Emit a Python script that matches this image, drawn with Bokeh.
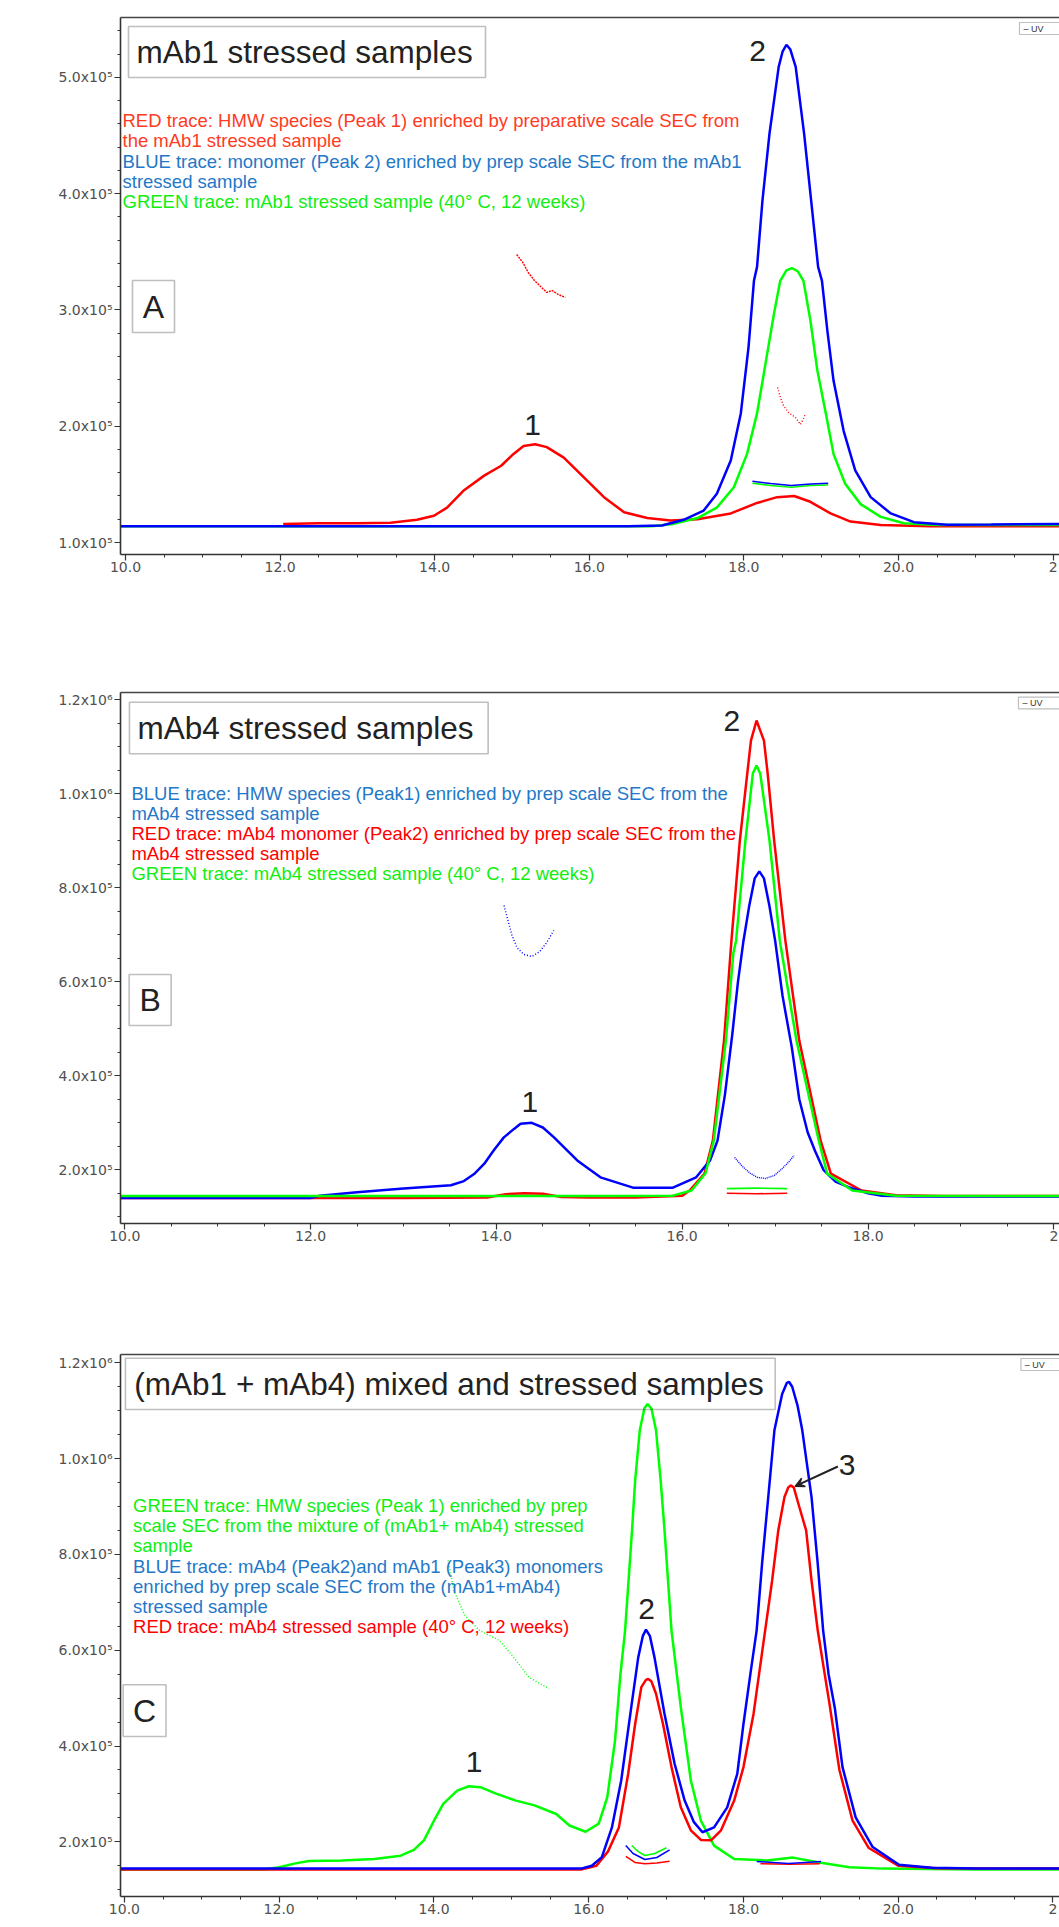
from bokeh.plotting import figure
from bokeh.models import Range1d, LinearAxis, FixedTicker, Label, BoxAnnotation, Arrow, VeeHead
from bokeh.layouts import column
from bokeh.embed import file_html
from bokeh.resources import INLINE

# ================= DATA (x: retention time in min, y: UV response in units of 1e5) =================
# ---- Panel A : mAb1 stressed samples ----
a_red_x = [12.04, 12.5, 13.0, 13.43, 13.77, 13.99, 14.16, 14.38, 14.64, 14.86, 15.0, 15.15, 15.3, 15.45,
           15.67, 15.93, 16.19, 16.45, 16.75, 17.05, 17.40, 17.83, 18.17, 18.43, 18.65, 18.86, 19.12, 19.38,
           19.77, 20.41, 21.0, 22.1]
a_red_y = [1.16, 1.165, 1.165, 1.17, 1.195, 1.23, 1.30, 1.45, 1.575, 1.66, 1.75, 1.83, 1.845, 1.82,
           1.73, 1.56, 1.39, 1.26, 1.21, 1.19, 1.20, 1.25, 1.34, 1.39, 1.40, 1.35, 1.25, 1.18,
           1.15, 1.14, 1.14, 1.14]
a_green_x = [9.94, 12.0, 14.0, 16.0, 16.8, 17.09, 17.40, 17.65, 17.87, 18.04, 18.17, 18.28, 18.39, 18.47, 18.55,
             18.62, 18.70, 18.77, 18.86, 18.95, 19.06, 19.16, 19.31, 19.51, 19.77, 20.07, 20.5, 22.1]
a_green_y = [1.14, 1.14, 1.14, 1.14, 1.14, 1.16, 1.21, 1.30, 1.475, 1.76, 2.11, 2.54, 2.97, 3.25, 3.34,
             3.36, 3.33, 3.25, 2.91, 2.48, 2.11, 1.76, 1.505, 1.33, 1.22, 1.166, 1.15, 1.15]
a_blue_x = [9.94, 11.0, 12.0, 13.0, 14.0, 15.0, 16.0, 16.5, 16.94, 17.22, 17.48, 17.65, 17.83, 17.96, 18.06,
            18.13, 18.17, 18.24, 18.33, 18.45, 18.50, 18.55, 18.60, 18.67, 18.78, 18.87, 18.96, 19.01, 19.08,
            19.16, 19.29, 19.44, 19.64, 19.90, 20.20, 20.63, 21.2, 22.1]
a_blue_y = [1.14, 1.14, 1.14, 1.14, 1.14, 1.14, 1.14, 1.14, 1.146, 1.195, 1.275, 1.42, 1.705, 2.11, 2.68,
            3.25, 3.37, 3.94, 4.51, 5.09, 5.22, 5.28, 5.24, 5.09, 4.51, 3.94, 3.37, 3.25, 2.82,
            2.39, 1.96, 1.62, 1.39, 1.25, 1.175, 1.152, 1.155, 1.16]
# small trace fragments drawn by the acquisition software
a_frag_red1_x = [15.06, 15.14, 15.21, 15.29, 15.37, 15.45, 15.52, 15.60, 15.69]
a_frag_red1_y = [3.476, 3.408, 3.322, 3.253, 3.201, 3.150, 3.167, 3.132, 3.107]
a_frag_red2_x = [18.435, 18.473, 18.512, 18.577, 18.667, 18.732, 18.771, 18.797]
a_frag_red2_y = [2.333, 2.247, 2.178, 2.118, 2.075, 2.015, 2.066, 2.109]
a_frag_blue_x = [18.11, 18.345, 18.61, 18.865, 19.09]
a_frag_blue_y = [1.527, 1.507, 1.490, 1.503, 1.510]
a_frag_green_y = [1.51, 1.49, 1.475, 1.49, 1.495]

# ---- Panel B : mAb4 stressed samples ----
b_red_x = [9.95, 11.0, 12.0, 13.0, 13.9, 14.1, 14.3, 14.5, 14.7, 15.0, 15.5, 16.0, 16.08, 16.24, 16.33, 16.45,
           16.53, 16.62, 16.70, 16.74, 16.80, 16.88, 16.92, 16.99, 17.11, 17.26, 17.49, 17.60, 17.93, 18.3,
           18.8, 20.1]
b_red_y = [1.40, 1.40, 1.40, 1.40, 1.41, 1.48, 1.50, 1.49, 1.42, 1.41, 1.41, 1.45, 1.56, 1.92, 2.62, 4.75,
           6.88, 9.0, 10.43, 11.13, 11.56, 11.13, 10.43, 9.0, 6.88, 4.75, 2.62, 1.92, 1.56, 1.46,
           1.44, 1.44]
b_blue_x = [9.95, 11.0, 12.0, 12.1, 12.5, 13.0, 13.51, 13.65, 13.76, 13.87, 13.97, 14.08, 14.19, 14.26, 14.38,
            14.50, 14.62, 14.87, 15.12, 15.47, 15.90, 16.15, 16.30, 16.38, 16.46, 16.54, 16.60, 16.66, 16.72,
            16.78, 16.83, 16.88, 16.94, 17.0, 17.08, 17.18, 17.26, 17.35, 17.43, 17.52, 17.65, 17.79, 18.0,
            18.15, 18.5, 19.0, 20.1]
b_blue_y = [1.40, 1.40, 1.40, 1.45, 1.52, 1.60, 1.67, 1.76, 1.91, 2.13, 2.41, 2.69, 2.87, 2.98, 3.0,
            2.90, 2.69, 2.20, 1.84, 1.62, 1.62, 1.84, 2.2, 2.62, 3.6, 4.9, 6.0, 6.88, 7.6,
            8.2, 8.35, 8.2, 7.6, 6.88, 5.7, 4.6, 3.5, 2.8, 2.4, 2.0, 1.75, 1.63, 1.5,
            1.45, 1.43, 1.43, 1.43]
b_green_x = [9.95, 12.0, 14.0, 15.0, 15.9, 16.1, 16.25, 16.34, 16.47, 16.55, 16.58, 16.68, 16.72, 16.76, 16.80,
             16.84, 16.94, 17.05, 17.23, 17.47, 17.56, 17.83, 18.3, 20.1]
b_green_y = [1.44, 1.44, 1.44, 1.44, 1.45, 1.56, 1.92, 2.62, 4.75, 6.6, 6.88, 9.0, 9.71, 10.43, 10.60,
             10.43, 9.0, 6.88, 4.75, 2.62, 1.92, 1.56, 1.45, 1.44]
b_frag_blue1_x = [14.082, 14.125, 14.168, 14.221, 14.296, 14.382, 14.467, 14.542, 14.617]
b_frag_blue1_y = [7.623, 7.304, 6.985, 6.730, 6.581, 6.538, 6.645, 6.836, 7.091]
b_frag_blue2_x = [16.564, 16.649, 16.735, 16.810, 16.895, 16.991, 17.077, 17.141, 17.205]
b_frag_blue2_y = [2.262, 2.070, 1.921, 1.836, 1.815, 1.879, 2.028, 2.155, 2.304]
b_frag_line_x = [16.48, 16.8, 17.13]
b_frag_green_y = [1.60, 1.61, 1.60]
b_frag_red_y = [1.50, 1.49, 1.50]

# ---- Panel C : (mAb1 + mAb4) mixed and stressed samples ----
c_green_x = [9.95, 11.0, 11.8, 12.0, 12.21, 12.38, 12.81, 13.23, 13.57, 13.74, 13.87, 14.0, 14.12, 14.30, 14.45,
             14.60, 14.81, 15.06, 15.30, 15.58, 15.75, 15.96, 16.13, 16.24, 16.34, 16.41, 16.47, 16.56, 16.60,
             16.66, 16.72, 16.76, 16.81, 16.87, 16.93, 16.98, 17.07, 17.19, 17.32, 17.45, 17.62, 17.88, 18.30,
             18.64, 18.98, 19.37, 19.80, 21.0, 22.1]
c_green_y = [1.42, 1.42, 1.42, 1.47, 1.55, 1.60, 1.61, 1.64, 1.71, 1.83, 2.03, 2.44, 2.79, 3.07, 3.16,
             3.14, 3.00, 2.86, 2.76, 2.58, 2.34, 2.21, 2.38, 2.93, 4.11, 5.5, 6.41, 8.5, 9.54,
             10.59, 11.05, 11.14, 11.05, 10.59, 9.54, 8.5, 6.41, 4.81, 3.28, 2.44, 1.92, 1.64, 1.61,
             1.67, 1.57, 1.47, 1.44, 1.42, 1.42]
c_red_x = [9.95, 12.0, 14.0, 15.9, 16.1, 16.25, 16.39, 16.51, 16.60, 16.68, 16.74, 16.77, 16.81, 16.87, 16.96,
           17.07, 17.19, 17.32, 17.45, 17.58, 17.71, 17.88, 18.0, 18.13, 18.28, 18.37, 18.45, 18.53, 18.58,
           18.61, 18.65, 18.72, 18.81, 18.88, 18.96, 19.04, 19.11, 19.24, 19.41, 19.62, 20.0, 20.5, 22.1]
c_red_y = [1.42, 1.42, 1.42, 1.42, 1.50, 1.80, 2.30, 3.42, 4.46, 5.23, 5.38, 5.40, 5.35, 5.09, 4.46,
           3.56, 2.72, 2.24, 2.04, 2.03, 2.24, 2.86, 3.56, 4.67, 6.41, 7.45, 8.5, 9.2, 9.4,
           9.44, 9.4, 9.0, 8.5, 7.45, 6.41, 5.6, 4.9, 3.5, 2.44, 1.87, 1.50, 1.45, 1.44]
c_blue_x = [9.95, 12.0, 14.0, 15.9, 16.04, 16.17, 16.30, 16.42, 16.55, 16.64, 16.70, 16.74, 16.79, 16.85, 16.98,
            17.11, 17.24, 17.36, 17.47, 17.62, 17.79, 17.92, 18.0, 18.09, 18.17, 18.24, 18.32, 18.40, 18.50,
            18.56, 18.59, 18.63, 18.70, 18.76, 18.88, 18.96, 19.03, 19.10, 19.18, 19.28, 19.45, 19.67, 20.01,
            20.43, 21.0, 22.1]
c_blue_y = [1.44, 1.44, 1.44, 1.44, 1.50, 1.68, 2.30, 3.28, 4.81, 5.85, 6.3, 6.43, 6.3, 5.85, 4.67,
            3.63, 2.86, 2.41, 2.20, 2.30, 2.72, 3.42, 4.46, 5.51, 6.41, 7.80, 9.19, 10.59, 11.35,
            11.58, 11.60, 11.5, 11.1, 10.59, 9.19, 7.80, 6.41, 5.5, 4.8, 3.56, 2.51, 1.89, 1.52,
            1.46, 1.44, 1.44]
c_frag_green_x = [14.182, 14.258, 14.399, 14.591, 14.847, 15.064, 15.230, 15.486]
c_frag_green_y = [7.873, 7.246, 6.724, 6.411, 6.203, 5.785, 5.430, 5.200]
c_u_green_x = [16.556, 16.637, 16.726, 16.854, 17.004]
c_u_green_y = [1.923, 1.798, 1.714, 1.756, 1.875]
c_u_blue_x = [16.479, 16.573, 16.726, 16.880, 17.046]
c_u_blue_y = [1.923, 1.756, 1.631, 1.672, 1.833]
c_u_red_x = [16.479, 16.598, 16.726, 16.880, 17.046]
c_u_red_y = [1.694, 1.568, 1.541, 1.557, 1.595]
c_seg_blue_x = [18.171, 18.581, 19.003]
c_seg_blue_y = [1.589, 1.547, 1.589]
c_seg_red_x = [18.219, 18.6, 18.986]
c_seg_red_y = [1.541, 1.53, 1.541]

# ---- tick labels (the last one is cut by the right edge in the original) ----
x_ticks_ac = [10, 12, 14, 16, 18, 20, 22]
x_labels_ac = {10: "10.0", 12: "12.0", 14: "14.0", 16: "16.0", 18: "18.0", 20: "20.0", 22: "2"}
x_ticks_b = [10, 12, 14, 16, 18, 20]
x_labels_b = {10: "10.0", 12: "12.0", 14: "14.0", 16: "16.0", 18: "18.0", 20: "2"}
y_ticks_a = [1, 2, 3, 4, 5]
y_labels_a = {1: "1.0x10\u2075", 2: "2.0x10\u2075", 3: "3.0x10\u2075", 4: "4.0x10\u2075", 5: "5.0x10\u2075"}
y_ticks_bc = [2, 4, 6, 8, 10, 12]
y_labels_bc = {2: "2.0x10\u2075", 4: "4.0x10\u2075", 6: "6.0x10\u2075", 8: "8.0x10\u2075",
               10: "1.0x10\u2076", 12: "1.2x10\u2076"}

# ================= STYLE =================
BLUE, GREEN, RED = "#0000ff", "#00ff00", "#ff0000"
T_RED_A, T_RED, T_BLUE, T_GREEN = "#ff3b1f", "#ff0000", "#1f78c8", "#11ee11"
DARK = "#222222"
FONT = "Liberation Sans"
W = 1059
ORIGIN = 0   # Bokeh's page template has no body margin


def conv(xref, xpx, xs, yref, ypx, ys):
    return (lambda px: xref + (px - xpx) / xs), (lambda py: yref + (ypx - py) / ys)


AX, AY = conv(10, 125, 77.3, 1, 542, 116.3)
BX, BY = conv(10, 118.3, 93.5, 2, 1169.3, 47.0)
CX, CY = conv(10, 114, 78.2, 2, 1841.3, 47.9)


def style_axis(ax, standoff):
    ax.axis_line_color = "#333333"
    ax.axis_line_width = 1.6
    ax.major_tick_line_color = "#333333"
    ax.minor_tick_line_color = "#333333"
    ax.major_tick_line_width = 1.2
    ax.minor_tick_line_width = 1
    ax.major_tick_in = 0
    ax.major_tick_out = 6
    ax.minor_tick_in = 0
    ax.minor_tick_out = 3
    ax.major_label_text_font = "DejaVu Sans"
    ax.major_label_text_font_size = "14px"
    ax.major_label_text_color = "#505050"
    ax.major_label_standoff = standoff


def make_panel(height, X, Y, left_px, top_px, bottom_px, page_top, xticks, xlabels, yticks, ylabels, yminor):
    p = figure(width=W - ORIGIN, height=height,
               x_range=Range1d(X(left_px), X(1059)), y_range=Range1d(Y(bottom_px), Y(top_px)),
               x_axis_type=None, y_axis_type=None, toolbar_location=None, output_backend="svg",
               min_border_left=left_px - ORIGIN, min_border_right=0,
               min_border_top=int(round(top_px - page_top)),
               min_border_bottom=int(round(page_top + height - bottom_px)))
    p.outline_line_color = None
    p.background_fill_color = "white"
    p.border_fill_color = "white"
    xminor = [m / 2 for m in range(18, 46) if m % 4 != 0]
    xa = LinearAxis(ticker=FixedTicker(ticks=xticks, minor_ticks=xminor), major_label_overrides=xlabels)
    style_axis(xa, 1)
    p.add_layout(xa, "below")
    ya = LinearAxis(ticker=FixedTicker(ticks=yticks, minor_ticks=yminor), major_label_overrides=ylabels)
    style_axis(ya, 2)
    p.add_layout(ya, "left")
    top = LinearAxis(ticker=FixedTicker(ticks=[]))
    top.axis_line_color = "#444444"
    top.axis_line_width = 1.6
    top.major_tick_out = 0
    top.minor_tick_out = 0
    top.major_label_standoff = 0
    top.major_label_text_font_size = "0px"
    p.add_layout(top, "above")
    return p


def add_text(p, X, Y, px, py, text, size, color, align="left"):
    p.add_layout(Label(x=X(px), y=Y(py), text=text, text_font=FONT, text_font_size=size,
                       text_color=color, text_align=align, text_baseline="middle"))


def add_box(p, X, Y, l, r, t, b, width=1.6):
    p.add_layout(BoxAnnotation(left=X(l), right=X(r), top=Y(t), bottom=Y(b), fill_color=None,
                               line_color="#2a2a2a", line_width=width))


def uv_box(p, X, Y, l, t, b):
    add_box(p, X, Y, l, 1090, t, b, 1.2)
    add_text(p, X, Y, l + 4, (t + b) / 2, "\u2013 UV", "9px", "#333333")


# ================= PANEL A =================
yminor_a = [round(0.8 + k * 0.2, 2) for k in range(25) if (k % 5) != 1]
pA = make_panel(620, AX, AY, 120, 17, 554, ORIGIN, x_ticks_ac, x_labels_ac, y_ticks_a, y_labels_a, yminor_a)
pA.line(a_red_x, a_red_y, line_color=RED, line_width=2.5)
pA.line(a_green_x, a_green_y, line_color=GREEN, line_width=2.5)
pA.line(a_blue_x, a_blue_y, line_color=BLUE, line_width=2.5)
pA.line(a_frag_red1_x, a_frag_red1_y, line_color=RED, line_width=1.4, line_dash="2 1")
pA.line(a_frag_red2_x, a_frag_red2_y, line_color=RED, line_width=1.4, line_dash="1 2")
pA.line(a_frag_blue_x, a_frag_green_y, line_color=GREEN, line_width=1.6)
pA.line(a_frag_blue_x, a_frag_blue_y, line_color=BLUE, line_width=1.6)

add_box(pA, AX, AY, 128, 485, 26, 77)
add_text(pA, AX, AY, 136, 51.5, "mAb1 stressed samples", "31.5px", DARK)
for txt, col, py in [("RED trace: HMW species (Peak 1) enriched by preparative scale SEC from", T_RED_A, 120),
                     ("the mAb1 stressed sample", T_RED_A, 140.3),
                     ("BLUE trace: monomer (Peak 2) enriched by prep scale SEC from the mAb1", T_BLUE, 160.7),
                     ("stressed sample", T_BLUE, 181),
                     ("GREEN trace: mAb1 stressed sample (40\u00b0 C, 12 weeks)", T_GREEN, 201.3)]:
    add_text(pA, AX, AY, 122, py, txt, "18.5px", col)
add_box(pA, AX, AY, 132, 174, 280, 332)
add_text(pA, AX, AY, 153, 306, "A", "32px", DARK, "center")
add_text(pA, AX, AY, 532, 424, "1", "30px", DARK, "center")
add_text(pA, AX, AY, 757, 50, "2", "30px", DARK, "center")
uv_box(pA, AX, AY, 1019, 22, 34)

# ================= PANEL B =================
yminor_bc = [m / 2 for m in range(2, 26) if m % 4 != 0]
pB = make_panel(670, BX, BY, 114, 692, 1223, 620, x_ticks_b, x_labels_b, y_ticks_bc, y_labels_bc, yminor_bc)
pB.line(b_red_x, b_red_y, line_color=RED, line_width=2.5)
pB.line(b_blue_x, b_blue_y, line_color=BLUE, line_width=2.5)
pB.line(b_green_x, b_green_y, line_color=GREEN, line_width=2.5)
pB.line(b_frag_blue1_x, b_frag_blue1_y, line_color=BLUE, line_width=1.4, line_dash="1 2")
pB.line(b_frag_blue2_x, b_frag_blue2_y, line_color=BLUE, line_width=1.4, line_dash="1 1")
pB.line(b_frag_line_x, b_frag_green_y, line_color=GREEN, line_width=1.6)
pB.line(b_frag_line_x, b_frag_red_y, line_color=RED, line_width=1.6)

add_box(pB, BX, BY, 123, 484, 701.7, 753.3)
add_text(pB, BX, BY, 131, 727.5, "mAb4 stressed samples", "31.5px", DARK)
for txt, col, py in [("BLUE trace: HMW species (Peak1) enriched by prep scale SEC from the", T_BLUE, 792.7),
                     ("mAb4 stressed sample", T_BLUE, 812.7),
                     ("RED trace: mAb4 monomer (Peak2) enriched by prep scale SEC from the", T_RED, 833.3),
                     ("mAb4 stressed sample", T_RED, 853.3),
                     ("GREEN trace: mAb4 stressed sample (40\u00b0 C, 12 weeks)", T_GREEN, 873.3)]:
    add_text(pB, BX, BY, 125, py, txt, "18.5px", col)
add_box(pB, BX, BY, 122.7, 165, 974, 1025)
add_text(pB, BX, BY, 143.8, 999.5, "B", "32px", DARK, "center")
add_text(pB, BX, BY, 526, 1101, "1", "30px", DARK, "center")
add_text(pB, BX, BY, 729.3, 720, "2", "30px", DARK, "center")
uv_box(pB, BX, BY, 1017.7, 696.7, 708.3)

# ================= PANEL C =================
pC = make_panel(635, CX, CY, 110, 1354, 1896, 1290, x_ticks_ac, x_labels_ac, y_ticks_bc, y_labels_bc, yminor_bc)
pC.line(c_green_x, c_green_y, line_color=GREEN, line_width=2.5)
pC.line(c_red_x, c_red_y, line_color=RED, line_width=2.5)
pC.line(c_blue_x, c_blue_y, line_color=BLUE, line_width=2.5)
pC.line(c_frag_green_x, c_frag_green_y, line_color=GREEN, line_width=1.4, line_dash="1 2")
pC.line(c_u_green_x, c_u_green_y, line_color=GREEN, line_width=1.5)
pC.line(c_u_blue_x, c_u_blue_y, line_color=BLUE, line_width=1.5)
pC.line(c_u_red_x, c_u_red_y, line_color=RED, line_width=1.5)
pC.line(c_seg_red_x, c_seg_red_y, line_color=RED, line_width=1.5)
pC.line(c_seg_blue_x, c_seg_blue_y, line_color=BLUE, line_width=1.5)

add_box(pC, CX, CY, 115, 771.7, 1357.7, 1409)
add_text(pC, CX, CY, 124, 1383, "(mAb1 + mAb4) mixed and stressed samples", "31.5px", DARK)
for txt, col, py in [("GREEN trace: HMW species (Peak 1) enriched by prep", T_GREEN, 1505),
                     ("scale SEC from the mixture of (mAb1+ mAb4) stressed", T_GREEN, 1525),
                     ("sample", T_GREEN, 1545),
                     ("BLUE trace: mAb4 (Peak2)and mAb1 (Peak3) monomers", T_BLUE, 1566),
                     ("enriched by prep scale SEC from the (mAb1+mAb4)", T_BLUE, 1586),
                     ("stressed sample", T_BLUE, 1606),
                     ("RED trace: mAb4 stressed sample (40\u00b0 C, 12 weeks)", T_RED, 1626)]:
    add_text(pC, CX, CY, 122.7, py, txt, "18.5px", col)
add_box(pC, CX, CY, 112.7, 156, 1684.3, 1736)
add_text(pC, CX, CY, 134.3, 1710, "C", "32px", DARK, "center")
add_text(pC, CX, CY, 467.3, 1761.7, "1", "30px", DARK, "center")
add_text(pC, CX, CY, 641.7, 1608.3, "2", "30px", DARK, "center")
add_text(pC, CX, CY, 844.3, 1464.3, "3", "30px", DARK, "center")
pC.add_layout(Arrow(end=VeeHead(size=9, line_color=DARK, fill_color=DARK, line_width=1.5),
                    x_start=CX(835), y_start=CY(1466), x_end=CX(792), y_end=CY(1485.7),
                    line_color=DARK, line_width=2))
uv_box(pC, CX, CY, 1020, 1358, 1370)

layout = column(pA, pB, pC)
open("out.html", "w").write(file_html(layout, INLINE))
